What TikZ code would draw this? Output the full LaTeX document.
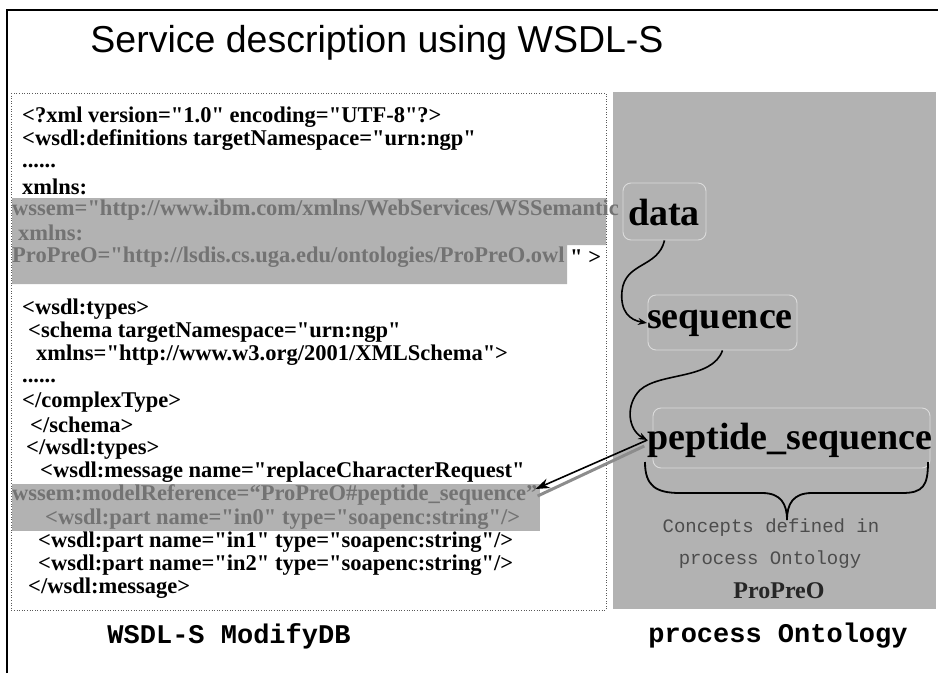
\documentclass[tikz,border=0pt]{standalone}
\usepackage{fontspec}
\setmainfont{Liberation Serif}
\newfontfamily\codef{Liberation Serif}
\newfontfamily\sansf{Liberation Sans}
\newfontfamily\monof{Liberation Mono}
\usetikzlibrary{arrows.meta,calc}
\tikzset{
  codeline/.style={anchor=west,inner sep=0pt,font=\codef\bfseries\fontsize{22.5}{23}\selectfont},
  graycode/.style={codeline,text=black!55},
  conceptbox/.style={draw=black!14,line width=0.9pt,rounded corners=8pt},
  concept/.style={inner sep=0pt,font=\bfseries\fontsize{38}{40}\selectfont},
  caption/.style={inner sep=0pt,font=\monof\bfseries\fontsize{27}{29}\selectfont},
  smallmono/.style={inner sep=0pt,font=\monof\fontsize{19}{21}\selectfont,text=black!70},
  curvearrow/.style={line width=1.6pt,-{Stealth[length=9pt,width=7pt]}},
}
\begin{document}
\begin{tikzpicture}[x=1pt,y=-1pt]
\useasboundingbox (0,0) rectangle (938,673);
% outer frame
\draw[line width=1.5pt] (7,673) -- (7,10) -- (938,10);
% title
\node[inner sep=0pt,font=\sansf\fontsize{37.5}{40}\selectfont] (title) at (377,43) {Service description using WSDL-S};
% right panel
\fill[black!30] (613,92) rectangle (936,609);
% code bands
\fill[black!30] (12,198) -- (606,198) -- (606,245) -- (567,245) -- (567,284) -- (12,284) -- cycle;
\fill[black!30] (12,484) rectangle (540,531);
% code box
\draw[black!65,line width=0.7pt,dash pattern=on 0.8pt off 1.8pt] (11,93) rectangle (606,610);
% code lines
\node[codeline] (l1) at (22,117) {<?xml version="1.0" encoding="UTF-8"?>};
\node[codeline] (l2) at (22,140) {<wsdl:definitions targetNamespace="urn:ngp"};
\node[codeline] (l3) at (22,166) {......};
\node[codeline] (l4) at (22,187) {xmlns:};
\node[graycode] (l5) at (12,210) {wssem="http://www.ibm.com/xmlns/WebServices/WSSemantic};
\node[graycode] (l6) at (18,233) {xmlns:};
\node[graycode] (l7) at (12,257) {ProPreO="http://lsdis.cs.uga.edu/ontologies/ProPreO.owl};
\node[codeline] (l7b) at (570,257) {" >};
\node[codeline] (l8) at (22,309) {<wsdl:types>};
\node[codeline] (l9) at (28,332) {<schema targetNamespace="urn:ngp"};
\node[codeline] (l10) at (36,355) {xmlns="http://www.w3.org/2001/XMLSchema">};
\node[codeline] (l11) at (22,381) {......};
\node[codeline] (l12) at (22,402) {</complexType>};
\node[codeline] (l13) at (30,425) {</schema>};
\node[codeline] (l14) at (26,449) {</wsdl:types>};
\node[codeline] (l15) at (40,472) {<wsdl:message name="replaceCharacterRequest"};
\node[graycode] (l16) at (12,495) {wssem:modelReference=“ProPreO\#peptide\_sequence”};
\node[graycode] (l17) at (45,519) {<wsdl:part name="in0" type="soapenc:string"/>};
\node[codeline] (l18) at (38,542) {<wsdl:part name="in1" type="soapenc:string"/>};
\node[codeline] (l19) at (38,565) {<wsdl:part name="in2" type="soapenc:string"/>};
\node[codeline] (l20) at (28,588) {</wsdl:message>};
% concept boxes
\node[conceptbox,minimum width=83pt,minimum height=57pt] (databox) at (664.5,211.5) {};
\node[conceptbox,minimum width=149pt,minimum height=55pt] (seqbox) at (722.5,322.5) {};
\node[conceptbox,minimum width=277pt,minimum height=60pt] (pepbox) at (791.5,438) {};
\node[concept] (data) at (664,212) {data};
\node[concept] (seq) at (720,323) {sequence};
\node[concept] (pep) at (790,440) {peptide\_sequence};
% curved arrows
\draw[curvearrow] (databox.south) .. controls (658,268) and (625,262) .. (622,291) .. controls (620,312) and (630,320) .. (seq.west);
\draw[curvearrow] (seqbox.south) .. controls (712,380) and (660,372) .. (640,390) .. controls (625,405) and (628,430) .. (pep.west);
% straight arrow with shadow
\coordinate (mref) at ($(l16.east)+(-2,-6)$);
\draw[black!45,line width=3pt] ($(pep.west)+(-3,6)$) -- ($(mref)+(2,7)$);
\draw[line width=1.6pt,-{Stealth[length=14pt,width=10pt]}] (pep.west) -- (mref);
% brace
\draw[line width=1.8pt] (645,462) .. controls (645,486) and (656,493) .. (680,493) -- (762,493) .. controls (781,493) and (787,504) .. (787,520)
  .. controls (787,504) and (793,493) .. (812,493) -- (902,493) .. controls (923,493) and (928,486) .. (928,462);
% panel texts
\node[smallmono] (c1) at (771,528) {Concepts defined in};
\node[smallmono] (c2) at (770,560) {process Ontology};
\node[inner sep=0pt,font=\bfseries\fontsize{24}{26}\selectfont,text=black!85] (ppo) at (779,591) {ProPreO};
% captions
\node[caption] (capl) at (229,636) {WSDL-S ModifyDB};
\node[caption] (capr) at (778,636) {process Ontology};
\end{tikzpicture}
\end{document}
